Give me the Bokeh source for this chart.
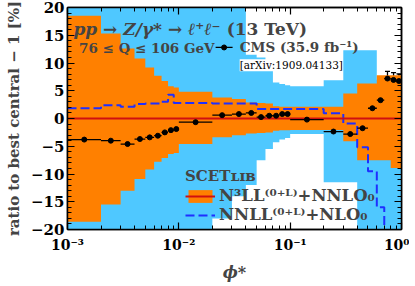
from bokeh.plotting import figure
from bokeh.models import (ColumnDataSource, Whisker, TeeHead, Label, Legend, LegendItem,
                          LogAxis, LinearAxis, FixedTicker, CustomJSTickFormatter)
from bokeh.embed import file_html
from bokeh.resources import INLINE
import numpy as np

# ---------------- data ----------------
bin_edges = [0.001, 0.002, 0.003, 0.004, 0.005, 0.006, 0.007, 0.008, 0.009,
             0.01, 0.02, 0.03, 0.04, 0.05, 0.06, 0.07, 0.08, 0.09,
             0.1, 0.2, 0.3, 0.4, 0.5, 0.6, 0.7, 0.8, 0.9, 1.0]

# N3LL(0+L)+NNLO0 band (orange), relative to best central [%]
n3ll_hi = [18.5, 15.3, 12.6, 10.8, 9.2, 7.7, 6.75, 5.8, 5.6,
           4.8, 3.8, 3.5, 2.9, 2.8, 2.7, 2.2, 2.1, 2.1,
           2.1, 2.1, 4.5, 6.3, 6.3, 7.8, 7.8, 7.8, 7.8]
n3ll_lo = [-18.6, -15.5, -13.0, -10.9, -9.2, -7.8, -7.1, -6.4, -6.2,
           -4.6, -3.4, -3.0, -2.7, -2.6, -2.5, -2.2, -2.1, -2.1,
           -2.05, -2.05, -4.1, -7.5, -7.5, -7.5, -7.5, -8.9, -8.9]
n3ll_central = [0.0, 0.0, 0.0, 0.0, 0.0, 0.0, 0.0, 0.0, 0.0,
                0.0, 0.0, 0.0, 0.0, 0.0, 0.0, 0.0, 0.0, 0.0,
                0.0, 0.0, 0.0, 0.0, 0.0, 0.0, 0.0, 0.0, 0.0]

# NNLL(0+L)+NLO0 band (light blue) and central (dashed blue)
nnll_hi = [28.0, 28.0, 28.0, 28.0, 28.0, 28.0, 28.0, 28.0, 28.0,
           28.0, 28.0, 28.0, 11.5, 11.0, 10.5, 6.5, 6.2, 6.0,
           5.8, 6.9, 12.3, 12.3, 12.3, 7.0, 7.0, 7.0, 7.0]
nnll_lo = [-28.0, -28.0, -28.0, -28.0, -28.0, -28.0, -28.0, -28.0, -28.0,
           -28.0, -18.0, -14.0, -12.0, -7.5, -5.5, -4.3, -3.8, -3.5,
           -2.8, -11.5, -11.5, -28.0, -28.0, -28.0, -28.0, -28.0, -28.0]
nnll_central = [1.85, 2.4, 2.1, 2.6, 2.7, 2.7, 3.0, 4.3, 2.8,
                2.8, 2.7, 2.7, 2.7, 1.7, 1.7, 1.7, 1.7, 1.7,
                1.7, 0.95, -0.9, -5.2, -9.5, -16.0, -30.0, -30.0, -30.0]

# CMS 13 TeV data (35.9 fb^-1)
cms_ratio = [-3.8, -4.0, -4.6, -3.7, -3.4, -3.1, -2.5, -2.1, -1.9,
             -0.66, 0.6, 0.8, 1.0, 0.25, 0.5, 0.5, 0.8, 0.8,
             -0.2, -2.35, -2.8, -1.75, 1.85, 3.3, 7.2, 6.95, 6.75]
cms_err = [1.0, 1.0, 1.0, 1.0, 1.0, 1.0, 1.0, 1.0, 1.0,
           1.1, 1.3, 1.3, 1.3, 1.2, 1.2, 1.2, 1.2, 1.2,
           1.2, 1.2, 1.2, 1.2, 1.3, 1.3, 1.3, 1.3, 1.3]

y_major_ticks = [-20, -15, -10, -5, 0, 5, 10, 15, 20]
y_minor_ticks = list(range(-20, 21))
x_major_ticks = [0.001, 0.01, 0.1, 1.0]
x_minor_ticks = [0.002, 0.003, 0.004, 0.005, 0.006, 0.007, 0.008, 0.009,
                 0.02, 0.03, 0.04, 0.05, 0.06, 0.07, 0.08, 0.09,
                 0.2, 0.3, 0.4, 0.5, 0.6, 0.7, 0.8, 0.9]

ORANGE = "#ff8000"
LIGHTBLUE = "#4fc8ff"
DASHBLUE = "#1f2fff"
RED = "#d01010"
FONT = "DejaVu Serif"

# ---------------- figure ----------------
p = figure(width=409, height=284, x_axis_type="log", x_range=(1e-3, 1.0), y_range=(-20, 20),
           output_backend="svg", toolbar_location=None,
           min_border_left=67, min_border_right=8, min_border_top=7, min_border_bottom=54)
p.xgrid.visible = False
p.ygrid.visible = False
p.outline_line_color = "black"
p.outline_line_width = 1.5
p.background_fill_color = "white"

def ext(a):
    return list(a) + [a[-1]]

bands = ColumnDataSource(dict(x=bin_edges,
                              n3hi=ext(n3ll_hi), n3lo=ext(n3ll_lo), n3c=ext(n3ll_central),
                              nnhi=ext(nnll_hi), nnlo=ext(nnll_lo), nnc=ext(nnll_central)))

p.varea_step(x="x", y1="nnlo", y2="nnhi", step_mode="after", source=bands, fill_color=LIGHTBLUE)
r_or = p.varea_step(x="x", y1="n3lo", y2="n3hi", step_mode="after", source=bands, fill_color=ORANGE)
r_dash = p.step(x="x", y="nnc", mode="after", source=bands, line_color=DASHBLUE, line_width=2,
                line_dash="9 4")
r_red = p.step(x="x", y="n3c", mode="after", source=bands, line_color=RED, line_width=2)

edges = np.array(bin_edges)
centers = np.sqrt(edges[:-1] * edges[1:])
yv = np.array(cms_ratio)
ev = np.array(cms_err)
dsrc = ColumnDataSource(dict(x=centers, x0=edges[:-1], x1=edges[1:], y=yv,
                             lo=yv - ev, hi=yv + ev))
p.segment(x0="x0", x1="x1", y0="y", y1="y", source=dsrc, line_color="black", line_width=1.3)
p.add_layout(Whisker(base="x", upper="hi", lower="lo", source=dsrc, dimension="height",
                     line_color="black", line_width=1.3,
                     upper_head=TeeHead(size=5, line_width=1.3, line_color="black"),
                     lower_head=TeeHead(size=5, line_width=1.3, line_color="black")))
p.scatter(x="x", y="y", source=dsrc, size=5, color="black")

# ---------------- axes ----------------
y_fmt = CustomJSTickFormatter(code="return tick < 0 ? '\u2212' + Math.abs(tick) : String(tick);")
x_fmt = CustomJSTickFormatter(code="""
const sup = {'-':'\u207b','0':'\u2070','1':'\u00b9','2':'\u00b2','3':'\u00b3'};
const e = Math.round(Math.log10(tick));
return '10' + String(e).split('').map(c => sup[c]).join('');
""")

def style(ax, labels=True):
    ax.major_tick_in = 7
    ax.major_tick_out = 0
    ax.minor_tick_in = 4
    ax.minor_tick_out = 0
    ax.axis_line_width = 1.5
    ax.major_tick_line_width = 1.2
    ax.minor_tick_line_width = 1.0
    ax.axis_line_color = "black"
    ax.major_tick_line_color = "black"
    ax.minor_tick_line_color = "black"
    if labels:
        ax.major_label_text_font = FONT
        ax.major_label_text_font_style = "bold"
        ax.major_label_text_font_size = "14px"
        ax.major_label_text_color = "black"
    else:
        ax.major_label_text_font_size = "1px"
        ax.major_label_text_alpha = 0
        ax.major_label_standoff = 0

yl = p.yaxis[0]
yl.ticker = FixedTicker(ticks=y_major_ticks, minor_ticks=y_minor_ticks)
yl.formatter = y_fmt
style(yl)
yl.major_label_text_font_size = "15px"
yl.major_label_standoff = 3
yl.axis_label = "ratio to best central \u2212 1 [%]"
yl.axis_label_text_font = FONT
yl.axis_label_text_font_style = "bold"
yl.axis_label_text_font_size = "15px"
yl.axis_label_standoff = 5

xl = p.xaxis[0]
xl.ticker = FixedTicker(ticks=x_major_ticks, minor_ticks=x_minor_ticks)
xl.formatter = x_fmt
style(xl)
xl.major_label_standoff = 7
xl.axis_label = "\u03d5*"
xl.axis_label_text_font = FONT
xl.axis_label_text_font_style = "bold italic"
xl.axis_label_text_font_size = "16px"
xl.axis_label_standoff = 7

ry = LinearAxis(ticker=FixedTicker(ticks=y_major_ticks, minor_ticks=y_minor_ticks))
style(ry, labels=False)
p.add_layout(ry, "right")
tx = LogAxis(ticker=FixedTicker(ticks=x_major_ticks, minor_ticks=x_minor_ticks))
style(tx, labels=False)
p.add_layout(tx, "above")

# ---------------- annotations ----------------
p.add_layout(Label(x=0.00113, y=16.1,
                   text="pp \u2192 Z/\u03b3* \u2192 \u2113\u207a\u2113\u207b",
                   text_font=FONT, text_font_style="bold italic", text_font_size="17px",
                   text_baseline="alphabetic"))
p.add_layout(Label(x=0.0269, y=16.1, text="(13 TeV)",
                   text_font=FONT, text_font_style="bold", text_font_size="17px",
                   text_baseline="alphabetic"))
p.add_layout(Label(x=0.00127, y=12.65, text="76 \u2264 Q \u2264 106 GeV",
                   text_font=FONT, text_font_style="bold", text_font_size="13.5px",
                   text_baseline="middle"))
p.add_layout(Label(x=0.0353, y=12.8, text="CMS (35.9 fb\u207b\u00b9)",
                   text_font=FONT, text_font_style="bold", text_font_size="13.5px",
                   text_baseline="middle"))
p.add_layout(Label(x=0.0352, y=9.6, text="[arXiv:1909.04133]",
                   text_font=FONT, text_font_size="10.5px", text_baseline="middle",
                   text_color="black", background_fill_color="white"))

# errorbar icon for CMS entry
icon = ColumnDataSource(dict(x=[0.0255], x0=[0.0214], x1=[0.0304], y=[12.8], lo=[11.9], hi=[13.7]))
p.segment(x0="x0", x1="x1", y0="y", y1="y", source=icon, line_color="black", line_width=1.3)
p.add_layout(Whisker(base="x", upper="hi", lower="lo", source=icon, dimension="height",
                     line_color="black", line_width=1.3,
                     upper_head=TeeHead(size=5, line_width=1.3, line_color="black"),
                     lower_head=TeeHead(size=5, line_width=1.3, line_color="black")))
p.scatter(x="x", y="y", source=icon, size=5, color="black")

legend = Legend(items=[LegendItem(label="N\u00b3LL\u207d\u2070\u207a\u1d38\u207e+NNLO\u2080", renderers=[r_or, r_red]),
                       LegendItem(label="NNLL\u207d\u2070\u207a\u1d38\u207e+NLO\u2080", renderers=[r_dash])],
                title="SCET\u029f\u026a\u0299", location=(118, 5),
                background_fill_alpha=0, border_line_alpha=0,
                padding=0, margin=0, spacing=0,
                glyph_width=30, glyph_height=16, label_height=16, label_standoff=4,
                label_text_font=FONT, label_text_font_style="bold", label_text_font_size="16.5px",
                title_text_font=FONT, title_text_font_style="bold", title_text_font_size="15px",
                title_standoff=1)
p.add_layout(legend)

open("out.html", "w").write(file_html(p, INLINE))
